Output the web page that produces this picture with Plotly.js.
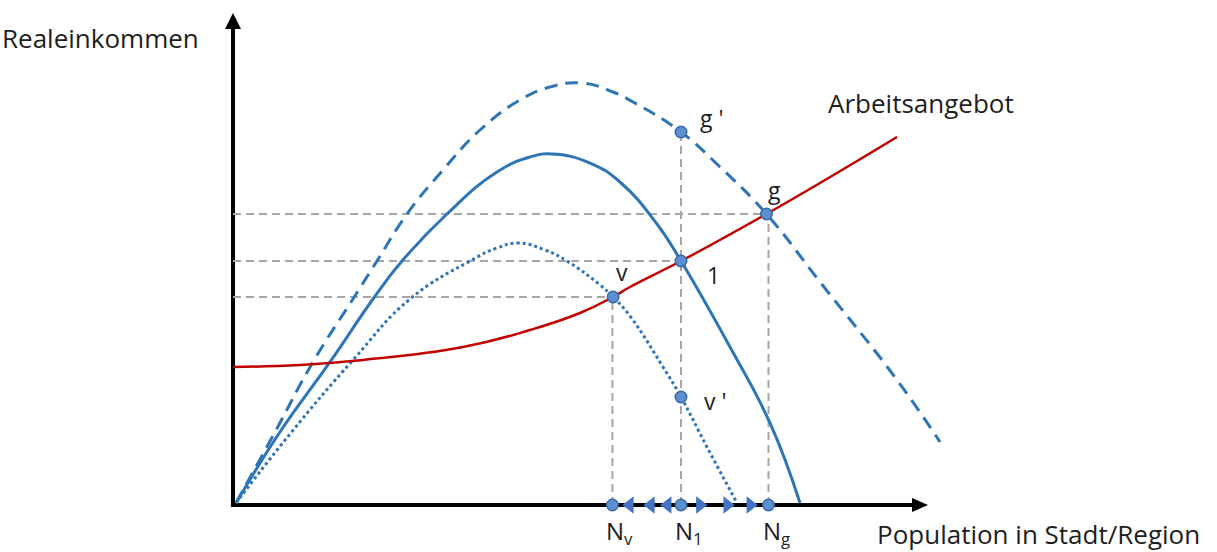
<!DOCTYPE html>
<html>
<head>
<meta charset="utf-8">
<script src="https://cdn.plot.ly/plotly-3.0.1.min.js"></script>
<style>html,body{margin:0;padding:0;background:#fff;}#chart{width:1217px;height:552px;}</style>
</head>
<body>
<div id="chart"></div>
<script>
// ---- data (abstract units: population 0..100, income 0..100) ----
const supplyX = [0, 9.57, 18.57, 32.86, 42.43, 49.57, 54.3, 56.71, 64.0, 76.21, 83.86, 94.86];
const supplyY = [28.05, 28.46, 29.47, 32.11, 35.57, 39.02, 42.3, 44.31, 49.59, 59.15, 65.45, 74.8];

const baseX = [0.43, 6.71, 13.86, 20.0, 24.14, 30.57, 37.71, 42.43, 45.57, 51.0, 55.43, 60.57, 64.0, 71.0, 76.71, 81.0];
const baseY = [0.41, 14.84, 29.07, 41.87, 49.59, 59.15, 67.68, 70.73, 71.34, 69.51, 65.45, 57.11, 49.59, 32.11, 16.67, 0.41];

const goodX = [0.43, 6.0, 11.43, 17.14, 20.57, 24.86, 30.0, 35.29, 41.0, 45.29, 49.86, 54.29, 57.14, 64.0, 69.57, 76.21, 83.86, 94.86, 101.0];
const goodY = [0.41, 14.84, 29.07, 41.87, 49.59, 59.15, 68.09, 76.22, 82.32, 84.96, 85.77, 83.94, 81.91, 75.81, 68.7, 59.15, 45.33, 25.41, 12.8];

const badX = [0.43, 8.14, 17.14, 25.29, 33.86, 37.71, 40.71, 44.57, 47.71, 52.43, 54.3, 56.71, 61.43, 64.0, 67.71, 72.0];
const badY = [0.41, 14.43, 29.47, 41.87, 49.59, 52.24, 53.25, 51.83, 49.59, 44.72, 42.3, 38.41, 28.05, 21.95, 11.79, 0.41];

const pointNames = ["g '", "g", "1", "v", "v '"];
const pointX = [64.0, 76.21, 64.0, 54.3, 64.0];
const pointY = [75.81, 59.15, 49.59, 42.3, 21.95];

const popLabels = ["N<sub>v</sub>", "N<sub>1</sub>", "N<sub>g</sub>"];
const popX = [54.2, 64.0, 76.5];

const leftArrowX = [56.7, 59.7, 62.1];
const rightArrowX = [66.7, 70.6, 73.9];

const xTitle = 'Population in Stadt/Region';
const yTitle = 'Realeinkommen';
const supplyName = 'Arbeitsangebot';

// ---- guide lines built from the points ----
const gx = [], gy = [];
[1, 2, 3].forEach(i => { gx.push(0, pointX[i], null); gy.push(pointY[i], pointY[i], null); });
[[0, 3], [1, 0], [2, 1]].forEach(([n, p]) => { gx.push(popX[n], popX[n], null); gy.push(0, pointY[p], null); });

const BLUE = '#2e75b6';
const SM = 1.3;
const traces = [
  {x: gx, y: gy, mode: 'lines', line: {color: '#a6a6a6', width: 2, dash: '8px,5px'}},
  {x: goodX, y: goodY, mode: 'lines', line: {color: BLUE, width: 3, dash: '13px,8px', shape: 'spline', smoothing: SM}},
  {x: baseX, y: baseY, mode: 'lines', line: {color: BLUE, width: 3, shape: 'spline', smoothing: SM}},
  {x: badX, y: badY, mode: 'lines', line: {color: BLUE, width: 3, dash: '3px,3px', shape: 'spline', smoothing: SM}},
  {x: supplyX, y: supplyY, mode: 'lines', line: {color: '#c00000', width: 2.5, shape: 'spline', smoothing: SM}},
  {x: leftArrowX, y: leftArrowX.map(() => 0), mode: 'markers', marker: {symbol: 'triangle-left', size: 15, color: '#4472c4'}},
  {x: rightArrowX, y: rightArrowX.map(() => 0), mode: 'markers', marker: {symbol: 'triangle-right', size: 15, color: '#4472c4'}},
  {x: pointX.concat(popX), y: pointY.concat(popX.map(() => 0)), mode: 'markers',
   marker: {size: 11.5, color: '#5b8fd0', line: {color: '#3a6aa5', width: 1.5}}}
];
traces.forEach(t => { t.cliponaxis = false; t.showlegend = false; t.hoverinfo = 'skip'; });

const FONT = 'Open Sans, DejaVu Sans, sans-serif';
const TXT = '#1e1e1e';
const ann = (x, y, text, size, xanchor) => ({x, y, xref: 'x', yref: 'y', text, showarrow: false,
  xanchor: xanchor || 'left', yanchor: 'middle', borderpad: 0, font: {family: FONT, size, color: TXT}});

const annotations = [
  ann(-33.1, 94.9, yTitle, 26),
  ann(84.8, 81.7, supplyName, 26),
  ann(91.9, -5.8, xTitle, 26),
  ann(66.5, 78.7, pointNames[0], 23),
  ann(77.4, 64.0, pointNames[1], 23, 'center'),
  ann(68.6, 46.7, pointNames[2], 23, 'center'),
  ann(55.6, 47.4, pointNames[3], 23, 'center'),
  ann(67.2, 21.1, pointNames[4], 23)
];
popLabels.forEach((t, i) => annotations.push(ann(popX[i] - 1.0, -5.4, t, 24)));

const shapes = [
  {type: 'line', xref: 'x', yref: 'y', x0: 0, y0: -0.4, x1: 0, y1: 97.5, line: {color: '#000', width: 4}, layer: 'below'},
  {type: 'line', xref: 'x', yref: 'y', x0: -0.3, y0: 0, x1: 97.6, y1: 0, line: {color: '#000', width: 4}, layer: 'below'},
  {type: 'path', xref: 'x', yref: 'y', xsizemode: 'pixel', ysizemode: 'pixel', xanchor: 0, yanchor: 100,
   path: 'M-8,-16 L8,-16 L0,0 Z', fillcolor: '#000', line: {width: 0}, layer: 'below'},
  {type: 'path', xref: 'x', yref: 'y', xsizemode: 'pixel', ysizemode: 'pixel', xanchor: 99.29, yanchor: 0,
   path: 'M-16,-7 L-16,7 L0,0 Z', fillcolor: '#000', line: {width: 0}, layer: 'below'}
];

// whole figure = plot area; 7 px per x unit, 4.92 px per y unit, origin at (233, 505)
const hidden = {showgrid: false, zeroline: false, showline: false, showticklabels: false, ticks: '', fixedrange: true};
const layout = {
  width: 1217, height: 552,
  margin: {l: 0, r: 0, t: 0, b: 0, pad: 0},
  paper_bgcolor: '#fff', plot_bgcolor: '#fff',
  xaxis: Object.assign({}, hidden, {range: [-233 / 7, (1217 - 233) / 7]}),
  yaxis: Object.assign({}, hidden, {range: [-(552 - 505) / 4.92, 505 / 4.92]}),
  showlegend: false,
  annotations, shapes
};
Plotly.newPlot('chart', traces, layout, {displayModeBar: false, staticPlot: true});
</script>
</body>
</html>
